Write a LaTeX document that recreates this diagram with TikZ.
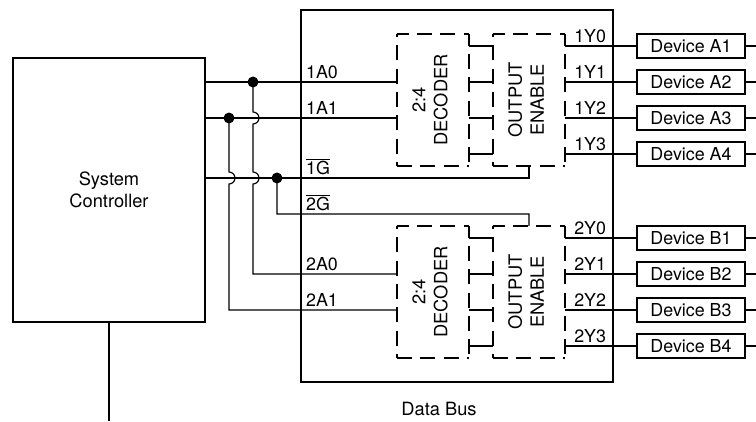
\documentclass[tikz,border=0pt]{standalone}
\usepackage{fontspec}
\setmainfont{TeX Gyre Heros}
\usepackage{tikz}
\begin{document}
\begin{tikzpicture}[scale=0.3,
    txt/.style={font=\fontsize{12.7}{15.6}\selectfont},
    bigtxt/.style={font=\fontsize{13}{15.6}\selectfont},
    pin/.style={txt, anchor=base west, inner sep=0pt},
    solidbox/.style={draw=black, line width=1.1pt, inner sep=0pt, outer sep=0pt, txt},
    dashbox/.style={inner sep=0pt, outer sep=0pt, minimum width=1.8cm, minimum height=3.3cm},
    dashside/.style={line width=1pt, dash pattern=on 10.6pt off 6pt, dash phase=#1},
    device/.style={solidbox, minimum width=2.7cm, minimum height=0.6cm},
    rottxt/.style={bigtxt, rotate=90, align=center},
    junction/.style={circle, fill=black, inner sep=0pt, minimum size=7.8pt},
    wire/.style={line width=0.8pt}]
 \useasboundingbox (-0.083,-0.25) rectangle (62.917,34.833);
 \node[solidbox, bigtxt, line width=1.3pt, minimum width=4.8cm, minimum height=6.6cm, align=center] (ctrl) at (9,19) {System\\Controller};
 \node[draw=black, line width=1.8pt, inner sep=0pt, outer sep=0pt, minimum width=7.8cm, minimum height=9.3cm] (bus) at (38,18.5) {};
 \node[dashbox] (dec1) at (36,26.5) {};
 \node[dashbox] (out1) at (44,26.5) {};
 \node[dashbox] (dec2) at (36,10.5) {};
 \node[dashbox] (out2) at (44,10.5) {};
 % dashes start over on each side
 \draw[dashside=2.3pt] (dec1.north west) -- (dec1.north east);
 \draw[dashside=2.3pt] (dec1.north east) -- (dec1.south east);
 \draw[dashside=0pt] (dec1.south west) -- (dec1.south east);
 \draw[dashside=8.5pt] (dec1.north west) -- (dec1.south west);
 \draw[dashside=2.3pt] (out1.north west) -- (out1.north east);
 \draw[dashside=2.3pt] (out1.north east) -- (out1.south east);
 \draw[dashside=0pt] (out1.south west) -- (out1.south east);
 \draw[dashside=8.5pt] (out1.north west) -- (out1.south west);
 \draw[dashside=2.3pt] (dec2.north west) -- (dec2.north east);
 \draw[dashside=2.3pt] (dec2.north east) -- (dec2.south east);
 \draw[dashside=0pt] (dec2.south west) -- (dec2.south east);
 \draw[dashside=8.5pt] (dec2.north west) -- (dec2.south west);
 \draw[dashside=2.3pt] (out2.north west) -- (out2.north east);
 \draw[dashside=2.3pt] (out2.north east) -- (out2.south east);
 \draw[dashside=0pt] (out2.south west) -- (out2.south east);
 \draw[dashside=8.5pt] (out2.north west) -- (out2.south west);
 \node[rottxt] (dec1txt) at (35.75,26.5) {2:4\\DECODER};
 \node[rottxt] (out1txt) at (43.75,26.5) {OUTPUT\\ENABLE};
 \node[rottxt] (dec2txt) at (35.75,10.5) {2:4\\DECODER};
 \node[rottxt] (out2txt) at (43.75,10.5) {OUTPUT\\ENABLE};
 \node[device] (devA1) at (57.5,31) {Device A1};
 \node[device] (devA2) at (57.5,28) {Device A2};
 \node[device] (devA3) at (57.5,25) {Device A3};
 \node[device] (devA4) at (57.5,22) {Device A4};
 \node[device] (devB1) at (57.5,15) {Device B1};
 \node[device] (devB2) at (57.5,12) {Device B2};
 \node[device] (devB3) at (57.5,9) {Device B3};
 \node[device] (devB4) at (57.5,6) {Device B4};
 \node[junction] (dotAzero) at (21,28) {};
 \node[junction] (dotAone) at (19,25) {};
 \node[junction] (dotG) at (23,20) {};
 \coordinate (ctrlend) at (9,-0.25);
 \coordinate (endA1) at (62.917,31);
 \coordinate (endA2) at (62.917,28);
 \coordinate (endA3) at (62.917,25);
 \coordinate (endA4) at (62.917,22);
 \coordinate (endB1) at (62.917,15);
 \coordinate (endB2) at (62.917,12);
 \coordinate (endB3) at (62.917,9);
 \coordinate (endB4) at (62.917,6);
 \draw[line width=1.1pt] (ctrl.south) -- (ctrlend);
 \draw[wire] (ctrl.east |- dotAzero) -- (dec1.west |- dotAzero);
 \draw[wire] (ctrl.east |- dotAone) -- (dec1.west |- dotAone);
 \draw[wire] (ctrl.east |- dotG) -- (out1.south |- dotG) -- (out1.south);
 \draw[wire] (dotAzero.center) -- (21,25.5) arc[start angle=90, end angle=-90, radius=0.5] -- (21,20.5) arc[start angle=90, end angle=-90, radius=0.5] -- (21,12) -- (dec2.west |- 0,12);
 \draw[wire] (dotAone.center) -- (19,20.5) arc[start angle=90, end angle=-90, radius=0.5] -- (19,9) -- (dec2.west |- 0,9);
 \draw[wire] (dotG.center) -- (23,17) -- (out2.north |- 0,17) -- (out2.north);
 \draw[wire] (dec1.east |- devA1) -- (out1.west |- devA1);
 \draw[wire] (dec1.east |- devA2) -- (out1.west |- devA2);
 \draw[wire] (dec1.east |- devA3) -- (out1.west |- devA3);
 \draw[wire] (dec1.east |- devA4) -- (out1.west |- devA4);
 \draw[wire] (dec2.east |- devB1) -- (out2.west |- devB1);
 \draw[wire] (dec2.east |- devB2) -- (out2.west |- devB2);
 \draw[wire] (dec2.east |- devB3) -- (out2.west |- devB3);
 \draw[wire] (dec2.east |- devB4) -- (out2.west |- devB4);
 \draw[wire] (out1.east |- devA1) -- (devA1.west);
 \draw[wire] (out1.east |- devA2) -- (devA2.west);
 \draw[wire] (out1.east |- devA3) -- (devA3.west);
 \draw[wire] (out1.east |- devA4) -- (devA4.west);
 \draw[wire] (out2.east |- devB1) -- (devB1.west);
 \draw[wire] (out2.east |- devB2) -- (devB2.west);
 \draw[wire] (out2.east |- devB3) -- (devB3.west);
 \draw[wire] (out2.east |- devB4) -- (devB4.west);
 \draw[wire] (devA1.east) -- (endA1);
 \draw[wire] (devA2.east) -- (endA2);
 \draw[wire] (devA3.east) -- (endA3);
 \draw[wire] (devA4.east) -- (endA4);
 \draw[wire] (devB1.east) -- (endB1);
 \draw[wire] (devB2.east) -- (endB2);
 \draw[wire] (devB3.east) -- (endB3);
 \draw[wire] (devB4.east) -- (endB4);
 \node[pin] (lblAzero) at (25.4,28.28) {1A0};
 \node[pin] (lblAone) at (25.4,25.28) {1A1};
 \node[pin] (lblGone) at (25.4,20.28) {$\overline{\mbox{1G}}$};
 \node[pin] (lblGtwo) at (25.4,17.28) {$\overline{\mbox{2G}}$};
 \node[pin] (lblBzero) at (25.4,12.28) {2A0};
 \node[pin] (lblBone) at (25.4,9.28) {2A1};
 \node[pin] (lblYa) at (47.75,31.28) {1Y0};
 \node[pin] (lblYb) at (47.75,28.28) {1Y1};
 \node[pin] (lblYc) at (47.75,25.28) {1Y2};
 \node[pin] (lblYd) at (47.75,22.28) {1Y3};
 \node[pin] (lblZa) at (47.75,15.28) {2Y0};
 \node[pin] (lblZb) at (47.75,12.28) {2Y1};
 \node[pin] (lblZc) at (47.75,9.28) {2Y2};
 \node[pin] (lblZd) at (47.75,6.28) {2Y3};
 \node[bigtxt, anchor=base, inner sep=0pt] (busname) at (36.5,0.25) {Data Bus};
\end{tikzpicture}
\end{document}
